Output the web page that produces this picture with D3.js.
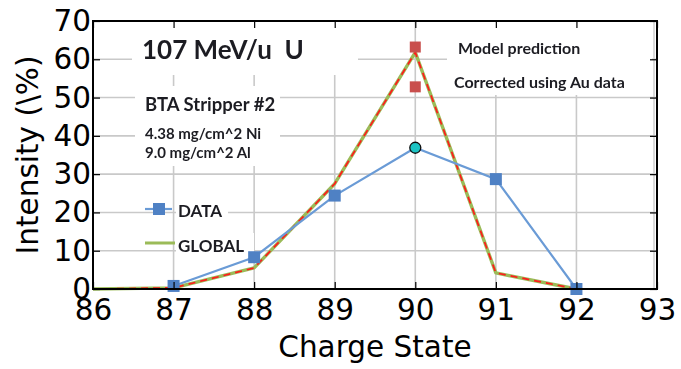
<!DOCTYPE html>
<html>
<head>
<meta charset="utf-8">
<script src="https://cdn.jsdelivr.net/npm/d3@7"></script>
<style>
  body { margin: 0; background: #fff; }
  .ann { font-family: Lato, "Open Sans", sans-serif; font-weight: 700; fill: #1e1e24; }
  .axis text { font-family: "DejaVu Sans", sans-serif; fill: #000; }
</style>
</head>
<body>
<svg id="chart" width="681" height="369"></svg>
<script>
// Measured charge-state distribution
const dataStates = [87, 88, 89, 90, 91, 92];
const dataIntensity = [0.8, 8.3, 24.4, 36.9, 28.7, 0];

// GLOBAL code calculation
const globalStates = [86, 87, 88, 89, 90, 91, 92];
const globalIntensity = [0, 0.3, 5.5, 27.5, 61.8, 4.2, 0];

// Peak-state predictions
const predictionStates = [90, 90];
const predictionValues = [63.2, 52.8];
const predictionLabels = ["Model prediction", "Corrected using Au data"];

// Highlighted measured point
const highlightState = 90;

const xTicks = [86, 87, 88, 89, 90, 91, 92, 93];
const yTicks = [0, 10, 20, 30, 40, 50, 60, 70];

const svg = d3.select("#chart");
const plotL = 93, plotR = 657, plotT = 21, plotB = 289;

const x = d3.scaleLinear().domain([86, 93]).range([plotL, plotR]);
const y = d3.scaleLinear().domain([0, 70]).range([plotB, plotT]);

// soft inner panel
svg.append("defs").append("filter").attr("id", "soft")
  .append("feGaussianBlur").attr("stdDeviation", 0.4);

const plot = svg.append("g").attr("filter", "url(#soft)");

// grid
plot.append("g").selectAll("line").data(xTicks.slice(1, -1)).join("line")
  .attr("x1", d => x(d)).attr("x2", d => x(d)).attr("y1", plotT).attr("y2", plotB)
  .attr("stroke", "#c9c9c9").attr("stroke-width", 1.6);
plot.append("g").selectAll("line").data(yTicks.slice(1, -1)).join("line")
  .attr("x1", plotL).attr("x2", plotR).attr("y1", d => y(d)).attr("y2", d => y(d))
  .attr("stroke", "#c9c9c9").attr("stroke-width", 1.6);
plot.append("line").attr("x1", plotR - 3).attr("x2", plotR - 3).attr("y1", plotT).attr("y2", plotB)
  .attr("stroke", "#cfcfcf").attr("stroke-width", 1.5);

// white panels behind annotation text
const panels = [
  [132, 22, 226, 53],
  [135, 86, 145, 80],
  [447, 22, 205, 73],
  [176, 199, 52, 24],
  [176, 233, 78, 25]
];
plot.append("g").selectAll("rect").data(panels).join("rect")
  .attr("x", d => d[0]).attr("y", d => d[1]).attr("width", d => d[2]).attr("height", d => d[3])
  .attr("fill", "#fff");

// annotation text
const ann = plot.append("g");
ann.append("text").attr("class", "ann").attr("x", 142).attr("y", 59).attr("font-size", 26)
  .style("white-space", "pre").text("107 MeV/u  U");
ann.append("text").attr("class", "ann").attr("x", 145).attr("y", 111).attr("font-size", 18.5).text("BTA Stripper #2");
ann.append("text").attr("class", "ann").attr("x", 145).attr("y", 139).attr("font-size", 15).text("4.38 mg/cm^2 Ni");
ann.append("text").attr("class", "ann").attr("x", 145).attr("y", 158).attr("font-size", 15).text("9.0 mg/cm^2 Al");
ann.selectAll("text.pl").data(predictionLabels).join("text").attr("class", "ann pl")
  .attr("x", (d, i) => i === 0 ? 458 : 454)
  .attr("y", (d, i) => i === 0 ? 54 : 88)
  .attr("font-size", 16).text(d => d);

// legend
const lg = plot.append("g");
lg.append("line").attr("x1", 145).attr("x2", 172).attr("y1", 209).attr("y2", 209)
  .attr("stroke", "#6a9bd6").attr("stroke-width", 2.2);
lg.append("rect").attr("x", 153).attr("y", 203).attr("width", 12).attr("height", 12).attr("fill", "#4f81c4");
lg.append("text").attr("class", "ann").attr("x", 178).attr("y", 217).attr("font-size", 17).text("DATA");
lg.append("line").attr("x1", 145).attr("x2", 175).attr("y1", 243).attr("y2", 243)
  .attr("stroke", "#9bbb59").attr("stroke-width", 3);
lg.append("text").attr("class", "ann").attr("x", 178).attr("y", 252).attr("font-size", 17).text("GLOBAL");

// series
const line = d3.line().x(d => x(d[0])).y(d => y(d[1]));
const dataPts = dataStates.map((s, i) => [s, dataIntensity[i]]);
const globalPts = globalStates.map((s, i) => [s, globalIntensity[i]]);

plot.append("path").datum(globalPts).attr("d", line)
  .attr("fill", "none").attr("stroke", "#9bbb59").attr("stroke-width", 3.4).attr("stroke-linejoin", "round");
plot.append("path").datum(globalPts).attr("d", line)
  .attr("fill", "none").attr("stroke", "#ff1a1a").attr("stroke-width", 1.7).attr("stroke-dasharray", "7,5");

plot.append("path").datum(dataPts).attr("d", line)
  .attr("fill", "none").attr("stroke", "#6a9bd6").attr("stroke-width", 2.2);
plot.append("g").selectAll("rect").data(dataPts.filter(d => d[0] !== highlightState)).join("rect")
  .attr("x", d => x(d[0]) - 6).attr("y", d => y(d[1]) - 6).attr("width", 12).attr("height", 12)
  .attr("fill", "#4f81c4");
plot.append("g").selectAll("circle").data(dataPts.filter(d => d[0] === highlightState)).join("circle")
  .attr("cx", d => x(d[0])).attr("cy", d => y(d[1])).attr("r", 5.5)
  .attr("fill", "#1fc4c4").attr("stroke", "#111").attr("stroke-width", 1.3);

plot.append("g").selectAll("rect").data(predictionStates.map((s, i) => [s, predictionValues[i]])).join("rect")
  .attr("x", d => x(d[0]) - 5.5).attr("y", d => y(d[1]) - 5.5).attr("width", 11).attr("height", 11)
  .attr("fill", "#c9504d");

// axes with inward ticks on all sides
const fs = 29.5;
svg.append("g").attr("class", "axis").attr("transform", `translate(0,${plotB})`)
  .call(d3.axisBottom(x).tickValues(xTicks).tickFormat(d3.format("d")).tickSizeInner(-7).tickSizeOuter(0).tickPadding(10))
  .call(g => g.select(".domain").remove())
  .call(g => g.selectAll("line").attr("stroke", "#000").attr("stroke-width", 1.2))
  .call(g => g.selectAll("text").attr("font-size", fs));
svg.append("g").attr("class", "axis").attr("transform", `translate(0,${plotT})`)
  .call(d3.axisTop(x).tickValues(xTicks).tickFormat("").tickSizeInner(-7).tickSizeOuter(0))
  .call(g => g.select(".domain").remove())
  .call(g => g.selectAll("line").attr("stroke", "#000").attr("stroke-width", 1.2));
svg.append("g").attr("class", "axis").attr("transform", `translate(${plotL},0)`)
  .call(d3.axisLeft(y).tickValues(yTicks).tickFormat(d3.format("d")).tickSizeInner(-7).tickSizeOuter(0).tickPadding(2))
  .call(g => g.select(".domain").remove())
  .call(g => g.selectAll("line").attr("stroke", "#000").attr("stroke-width", 1.2))
  .call(g => g.selectAll("text").attr("font-size", fs));
svg.append("g").attr("class", "axis").attr("transform", `translate(${plotR},0)`)
  .call(d3.axisRight(y).tickValues(yTicks).tickFormat("").tickSizeInner(-7).tickSizeOuter(0))
  .call(g => g.select(".domain").remove())
  .call(g => g.selectAll("line").attr("stroke", "#000").attr("stroke-width", 1.2));

svg.append("rect").attr("x", plotL).attr("y", plotT).attr("width", plotR - plotL).attr("height", plotB - plotT)
  .attr("fill", "none").attr("stroke", "#000").attr("stroke-width", 2);

// axis titles
svg.append("text").attr("x", (plotL + plotR) / 2).attr("y", 357).attr("text-anchor", "middle")
  .attr("font-family", "DejaVu Sans, sans-serif").attr("font-size", fs).text("Charge State");
svg.append("text").attr("transform", `translate(38,${(plotT + plotB) / 2}) rotate(-90)`).attr("text-anchor", "middle")
  .attr("font-family", "DejaVu Sans, sans-serif").attr("font-size", fs).text("Intensity (\\%)");
</script>
</body>
</html>
